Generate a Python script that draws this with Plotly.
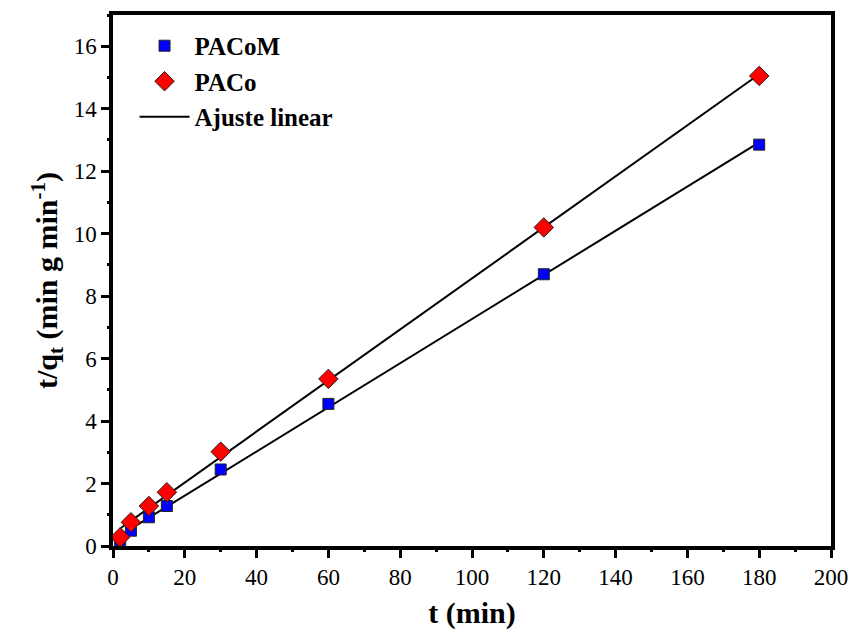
import numpy as np
import plotly.graph_objects as go

t = [2, 5, 10, 15, 30, 60, 120, 180]
pacom = [0.18, 0.49, 0.92, 1.28, 2.45, 4.55, 8.70, 12.85]
paco = [0.28, 0.76, 1.28, 1.72, 3.02, 5.35, 10.20, 15.05]

SERIF = "Liberation Serif, Times New Roman, Times, serif"
XRANGE = [0, 200]
YRANGE = [0, 17]

fig = go.Figure()

def fit_line(x, y):
    m, b = np.polyfit(x, y, 1)
    xs = np.array([min(x), max(x)])
    return xs, m * xs + b

for ys, show in [(pacom, True), (paco, False)]:
    fx, fy = fit_line(t, ys)
    fig.add_trace(go.Scatter(x=fx, y=fy, mode="lines", line=dict(color="black", width=2),
                             name="<b>Ajuste linear</b>", showlegend=show, legendrank=3))

fig.add_trace(go.Scatter(x=t, y=pacom, mode="markers", name="<b>PACoM</b>", legendrank=1,
                         marker=dict(symbol="square", size=11, color="#0000ff",
                                     line=dict(color="#222222", width=1))))
fig.add_trace(go.Scatter(x=t, y=paco, mode="markers", name="<b>PACo</b>", legendrank=2,
                         marker=dict(symbol="diamond", size=15, color="#ff0000",
                                     line=dict(color="#222222", width=1))))
fig.add_trace(go.Scatter(x=[None], y=[None], xaxis="x2", yaxis="y2", showlegend=False,
                         hoverinfo="skip"))

fig.update_layout(
    template="none",
    font=dict(family=SERIF, size=23, color="#000000"),
    xaxis=dict(range=XRANGE, dtick=20, showline=True, linecolor="#000000", linewidth=3.5,
               mirror=True, ticks="outside", ticklen=8, tickwidth=3, tickcolor="#000000",
               showgrid=False, zeroline=False,
               tickfont=dict(family=SERIF, size=23),
               title=dict(text="<b>t (min)</b>", font=dict(family=SERIF, size=30),
                          standoff=14)),
    yaxis=dict(range=YRANGE, dtick=2, showline=True, linecolor="#000000", linewidth=3.5,
               mirror=True, ticks="outside", ticklen=8, tickwidth=3, tickcolor="#000000",
               showgrid=False, zeroline=False,
               tickfont=dict(family=SERIF, size=23),
               title=dict(text="<b>t/q<sub>t</sub> (min g min<sup>-1</sup>)</b>",
                          font=dict(family=SERIF, size=30),
                          standoff=8)),
    xaxis2=dict(overlaying="x", anchor="y", side="bottom", range=XRANGE, dtick=10,
                ticks="outside", ticklen=5, tickwidth=3, tickcolor="#000000",
                showticklabels=False, showline=False, showgrid=False, zeroline=False),
    yaxis2=dict(overlaying="y", anchor="x", side="left", range=YRANGE, dtick=1,
                ticks="outside", ticklen=5, tickwidth=3, tickcolor="#000000",
                showticklabels=False, showline=False, showgrid=False, zeroline=False),
    width=853, height=636,
    margin=dict(l=113, r=22, t=15, b=90),
    plot_bgcolor="white", paper_bgcolor="white",
    legend=dict(x=0.03, y=0.985, xanchor="left", yanchor="top",
                font=dict(family=SERIF, size=25), itemwidth=50,
                bgcolor="rgba(0,0,0,0)", traceorder="normal"),
)

fig.write_html("out.html")
